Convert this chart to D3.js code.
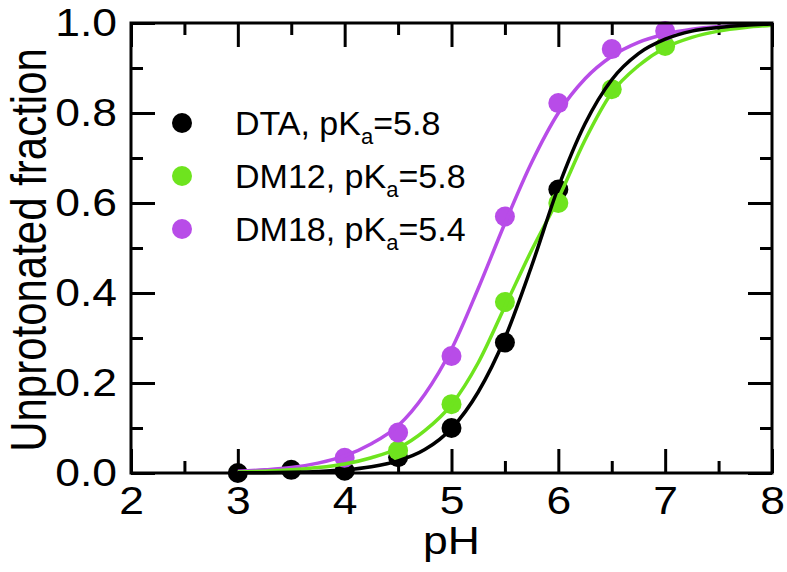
<!DOCTYPE html>
<html>
<head>
<meta charset="utf-8">
<script src="https://cdn.jsdelivr.net/npm/d3@7"></script>
<style>
  html, body { margin: 0; padding: 0; background: #fff; }
  svg { display: block; }
  text { font-family: "Liberation Sans", Arial, Helvetica, sans-serif; fill: #000; }
</style>
</head>
<body>
<svg id="chart" width="787" height="572"></svg>
<script>
// ---- data ----
const xTicks = [2, 3, 4, 5, 6, 7, 8];
const yTicks = [0.0, 0.2, 0.4, 0.6, 0.8, 1.0];

const seriesNames = ["DTA", "DM12", "DM18"];
const seriesPKa = ["5.8", "5.8", "5.4"];
const seriesColors = ["#000000", "#6ee41e", "#b84ce8"];

// measured points
const dtaPH = [3, 3.5, 4, 4.5, 5, 5.5, 6];
const dtaFrac = [0.0, 0.007, 0.005, 0.035, 0.10, 0.29, 0.63];
const dm12PH = [4.5, 5, 5.5, 6, 6.5, 7];
const dm12Frac = [0.05, 0.153, 0.38, 0.60, 0.853, 0.949];
const dm18PH = [4, 4.5, 5, 5.5, 6, 6.5, 7];
const dm18Frac = [0.034, 0.09, 0.26, 0.57, 0.822, 0.942, 0.982];

// fitted curves
const curvePH = [3, 3.25, 3.5, 3.75, 4, 4.25, 4.5, 4.75, 5, 5.25, 5.5, 5.75, 6, 6.25, 6.5, 6.75, 7, 7.25, 7.5, 7.75, 8];
const dtaCurve = [0.0004, 0.0008, 0.0017, 0.0035, 0.007, 0.014, 0.027, 0.052, 0.099, 0.18, 0.30, 0.46, 0.635, 0.776, 0.874, 0.932, 0.964, 0.982, 0.99, 0.995, 0.998];
const dm12Curve = [0.002, 0.004, 0.007, 0.012, 0.02, 0.034, 0.055, 0.094, 0.152, 0.245, 0.37, 0.495, 0.61, 0.74, 0.845, 0.905, 0.945, 0.968, 0.982, 0.99, 0.995];
const dm18Curve = [0.004, 0.007, 0.012, 0.022, 0.038, 0.065, 0.105, 0.175, 0.275, 0.41, 0.555, 0.69, 0.80, 0.876, 0.926, 0.957, 0.975, 0.986, 0.992, 0.995, 0.997];

// ---- drawing ----
const svg = d3.select("#chart");
const mLeft = 131, mRight = 772, mTop = 23, mBottom = 473;
const sx = 1.17;   // horizontal stretch of the axis lettering

const x = d3.scaleLinear().domain([2, 8]).range([mLeft, mRight]);
const y = d3.scaleLinear().domain([0, 1]).range([mBottom, mTop]);

const majorLen = 24, minorLen = 12, axisW = 3;
const xMinor = d3.range(2.5, 8, 1);
const yMinor = d3.range(0.1, 1.0, 0.2);

function styleAxis(g) {
  g.select(".domain").remove();
  g.selectAll(".tick line").attr("stroke", "#000").attr("stroke-width", axisW);
}

// bottom axis with labels
svg.append("g").attr("transform", `translate(0,${mBottom})`)
  .call(d3.axisBottom(x).tickValues(xTicks).tickSize(-majorLen).tickPadding(14).tickFormat(d3.format("d")))
  .call(styleAxis)
  .call(g => g.selectAll("text").attr("font-size", 38).attr("font-family", null)
    .attr("transform", `scale(${sx},1)`));
svg.append("g").attr("transform", `translate(0,${mBottom})`)
  .call(d3.axisBottom(x).tickValues(xMinor).tickSize(-minorLen).tickFormat(""))
  .call(styleAxis);
// top axis (ticks only)
svg.append("g").attr("transform", `translate(0,${mTop})`)
  .call(d3.axisTop(x).tickValues(xTicks).tickSize(-majorLen).tickFormat(""))
  .call(styleAxis);
svg.append("g").attr("transform", `translate(0,${mTop})`)
  .call(d3.axisTop(x).tickValues(xMinor).tickSize(-minorLen).tickFormat(""))
  .call(styleAxis);
// left axis with labels
svg.append("g").attr("transform", `translate(${mLeft},0)`)
  .call(d3.axisLeft(y).tickValues(yTicks).tickSize(-majorLen).tickPadding(14).tickFormat(d3.format(".1f")))
  .call(styleAxis)
  .call(g => g.selectAll("text").attr("font-size", 38).attr("font-family", null)
    .attr("x", -14 / sx).attr("transform", `scale(${sx},1)`));
svg.append("g").attr("transform", `translate(${mLeft},0)`)
  .call(d3.axisLeft(y).tickValues(yMinor).tickSize(-minorLen).tickFormat(""))
  .call(styleAxis);
// right axis (ticks only)
svg.append("g").attr("transform", `translate(${mRight},0)`)
  .call(d3.axisRight(y).tickValues(yTicks).tickSize(-majorLen).tickFormat(""))
  .call(styleAxis);
svg.append("g").attr("transform", `translate(${mRight},0)`)
  .call(d3.axisRight(y).tickValues(yMinor).tickSize(-minorLen).tickFormat(""))
  .call(styleAxis);

// points
const pointSets = [
  { ph: dtaPH, v: dtaFrac, c: seriesColors[0] },
  { ph: dm12PH, v: dm12Frac, c: seriesColors[1] },
  { ph: dm18PH, v: dm18Frac, c: seriesColors[2] }
];
pointSets.forEach(s => {
  svg.append("g").selectAll("circle")
    .data(s.ph.map((p, i) => [p, s.v[i]]))
    .join("circle")
    .attr("cx", d => x(d[0]))
    .attr("cy", d => y(d[1]))
    .attr("r", 10)
    .attr("fill", s.c);
});

// fitted curves
const line = d3.line().x(d => x(d[0])).y(d => y(d[1])).curve(d3.curveMonotoneX);
const curveSets = [
  { v: dm18Curve, c: seriesColors[2] },
  { v: dm12Curve, c: seriesColors[1] },
  { v: dtaCurve, c: seriesColors[0] }
];
curveSets.forEach(s => {
  svg.append("path")
    .datum(curvePH.map((p, i) => [p, s.v[i]]))
    .attr("d", line)
    .attr("fill", "none")
    .attr("stroke", s.c)
    .attr("stroke-width", 3.5)
    .attr("stroke-linejoin", "round");
});

// frame
svg.append("rect")
  .attr("x", mLeft).attr("y", mTop)
  .attr("width", mRight - mLeft).attr("height", mBottom - mTop)
  .attr("fill", "none").attr("stroke", "#000").attr("stroke-width", axisW);

// axis titles
svg.append("text")
  .attr("transform", `translate(${(mLeft + mRight) / 2},554) scale(${sx},1)`)
  .attr("text-anchor", "middle").attr("font-size", 38)
  .text("pH");
svg.append("text")
  .attr("transform", `translate(46,${(mTop + mBottom) / 2 + 2}) scale(${sx},1) rotate(-90)`)
  .attr("text-anchor", "middle").attr("font-size", 42)
  .text("Unprotonated fraction");

// legend
const legendY = [123, 176, 229];
seriesNames.forEach((name, i) => {
  svg.append("circle")
    .attr("cx", 182).attr("cy", legendY[i]).attr("r", 10)
    .attr("fill", seriesColors[i]);
  const t = svg.append("text")
    .attr("x", 235).attr("y", legendY[i] + 12)
    .attr("font-size", 34);
  t.append("tspan").text(`${name}, pK`);
  t.append("tspan").attr("font-size", 22).attr("dy", 9).text("a");
  t.append("tspan").attr("dy", -9).text(`=${seriesPKa[i]}`);
});
</script>
</body>
</html>
